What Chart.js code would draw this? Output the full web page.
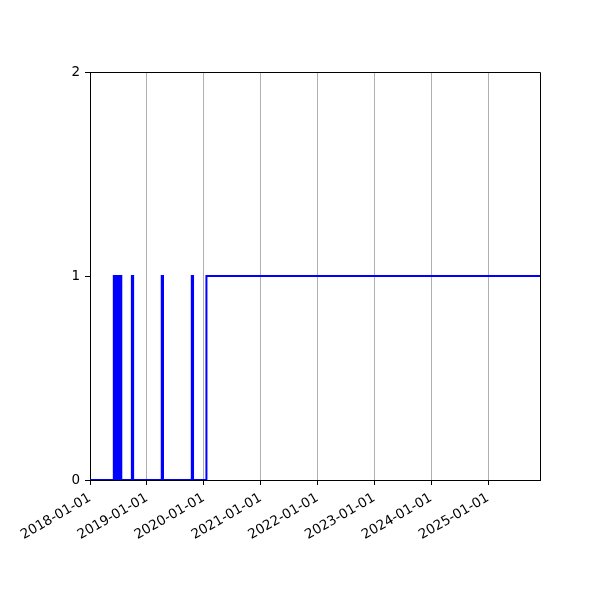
<!DOCTYPE html>
<html>
<head>
<meta charset="utf-8">
<script src="https://cdn.jsdelivr.net/npm/chart.js@4.4.0/dist/chart.umd.min.js"></script>
<style>
  body { margin: 0; background: #fff; }
</style>
</head>
<body>
<canvas id="myChart" width="600" height="600"></canvas>
<script>
// axis range and ticks
const xStart = "2018-01-01";
const xEnd = "2025-12-01";
const tickDates = [
  "2018-01-01", "2019-01-01", "2020-01-01", "2021-01-01",
  "2022-01-01", "2023-01-01", "2024-01-01", "2025-01-01",
];
const yTicks = [0, 1, 2];

// dates where the value changes, and the value from that date on
const changeDates = [
  "2018-01-01",
  "2018-06-03", "2018-06-07", "2018-06-11", "2018-06-14",
  "2018-06-17", "2018-06-20", "2018-06-23", "2018-06-26",
  "2018-06-29", "2018-07-02", "2018-07-05", "2018-07-08",
  "2018-07-11", "2018-07-14", "2018-07-17", "2018-07-21",
  "2018-09-27", "2018-10-05",
  "2019-04-07", "2019-04-15",
  "2019-10-17", "2019-10-25",
  "2020-01-19",
  "2025-12-01",
];
const changeValues = [
  0,
  1, 0, 1, 0,
  1, 0, 1, 0,
  1, 0, 1, 0,
  1, 0, 1, 0,
  1, 0,
  1, 0,
  1, 0,
  1,
  1,
];

function toMs(d) {
  return Date.parse(d + "T00:00:00Z");
}

let points = [];
for (let i = 0; i < changeDates.length; i++) {
  points.push({ x: toMs(changeDates[i]), y: changeValues[i] });
}

//draw top and right spines like the reference
const frame = {
  id: "frame",
  afterDraw(chart) {
    let a = chart.chartArea;
    let c = chart.ctx;
    c.save();
    c.strokeStyle = "#000";
    c.lineWidth = 1;
    c.beginPath();
    c.moveTo(a.left, a.top + 0.5);
    c.lineTo(a.right + 0.5, a.top + 0.5);
    c.lineTo(a.right + 0.5, a.bottom);
    c.stroke();
    c.restore();
  },
};

const font = { family: "DejaVu Sans", size: 13.5 };

new Chart(document.getElementById("myChart"), {
  type: "line",
  data: {
    datasets: [
      {
        data: points,
        borderColor: "#0000ff",
        borderWidth: 2,
        pointRadius: 0,
        stepped: true,
        fill: false,
      },
    ],
  },
  options: {
    responsive: false,
    animation: false,
    layout: { padding: { top: 72, right: 60, left: 0, bottom: 0 } },
    plugins: {
      legend: { display: false },
      tooltip: { enabled: false },
    },
    scales: {
      x: {
        type: "linear",
        min: toMs(xStart),
        max: toMs(xEnd),
        afterBuildTicks: (axis) => {
          axis.ticks = tickDates.map((d) => ({ value: toMs(d) }));
        },
        afterFit: (axis) => {
          axis.height = 120;
        },
        grid: {
          color: "#b0b0b0",
          lineWidth: 1,
          tickColor: "#000",
          tickLength: 5,
        },
        border: { color: "#000", width: 1 },
        ticks: {
          autoSkip: false,
          minRotation: 30,
          maxRotation: 30,
          padding: 5,
          color: "#000",
          font: font,
          callback: (v) => new Date(v).toISOString().slice(0, 10),
        },
      },
      y: {
        type: "linear",
        min: yTicks[0],
        max: yTicks[yTicks.length - 1],
        afterBuildTicks: (axis) => {
          axis.ticks = yTicks.map((v) => ({ value: v }));
        },
        afterFit: (axis) => {
          axis.width = 90;
        },
        grid: {
          drawOnChartArea: false,
          tickColor: "#000",
          tickLength: 5,
        },
        border: { color: "#000", width: 1 },
        ticks: {
          padding: 5,
          color: "#000",
          font: font,
        },
      },
    },
  },
  plugins: [frame],
});
</script>
</body>
</html>
